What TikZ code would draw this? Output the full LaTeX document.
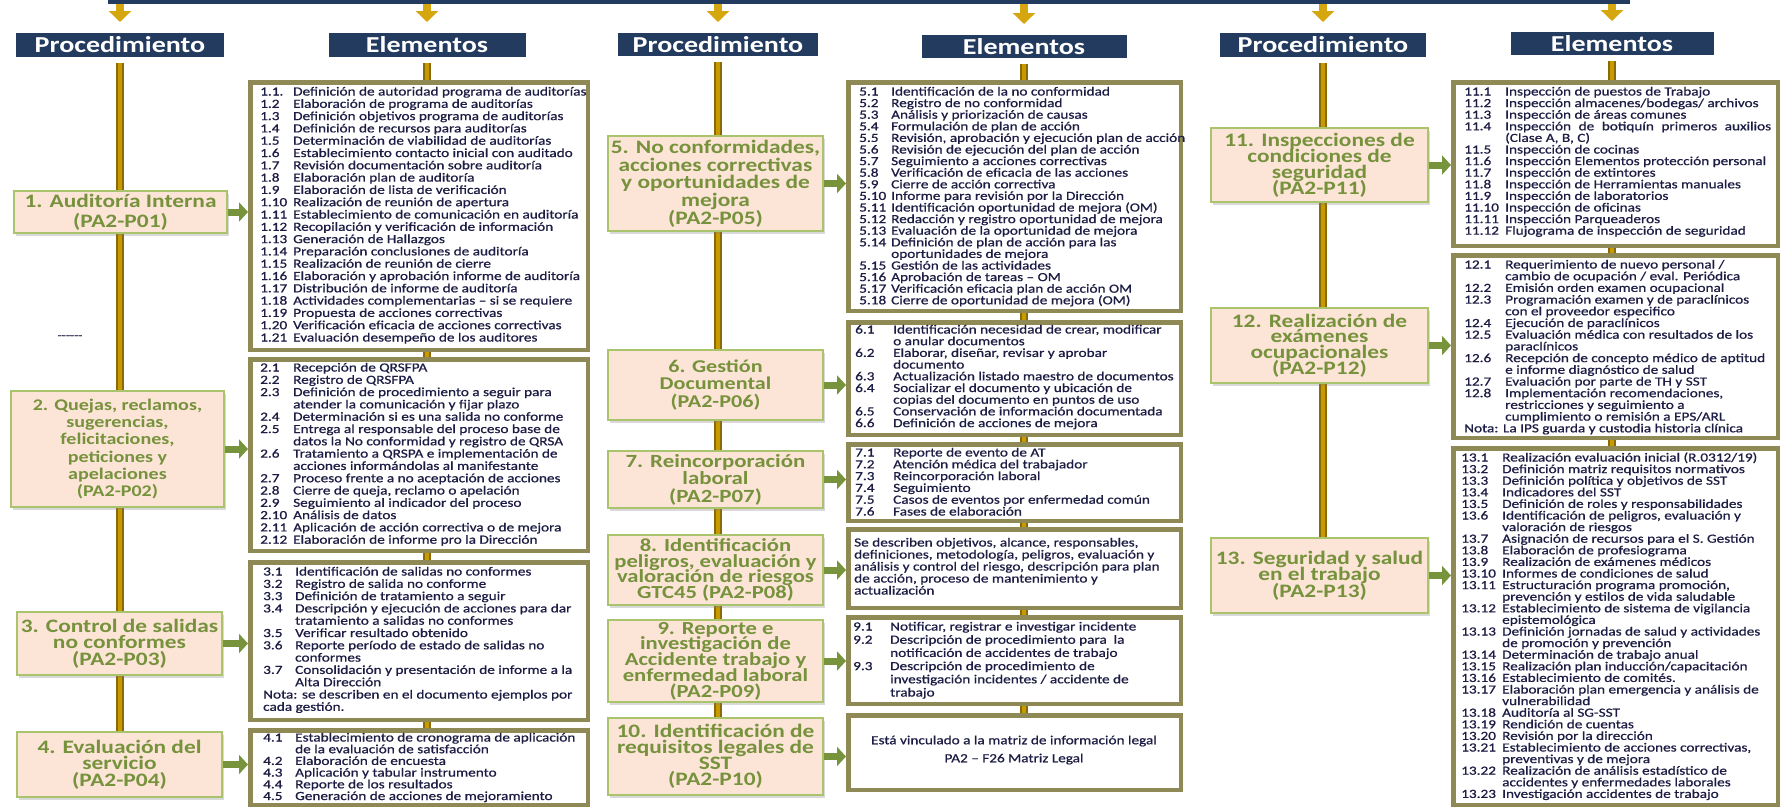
\documentclass[tikz,border=0pt]{standalone}
\usepackage{fontspec}
\newfontfamily\itemf{Carlito}[FakeStretch=1.23, FakeBold=0.7]
\newfontfamily\procf{Carlito}[FakeStretch=1.23]
\usetikzlibrary{arrows.meta,shadows}
\definecolor{navy}{HTML}{223B5E}
\definecolor{trunkd}{HTML}{8A6A08}
\definecolor{trunkl}{HTML}{C79A00}
\definecolor{goldarr}{HTML}{D6A60F}
\definecolor{peach}{HTML}{FCE4D6}
\definecolor{pborder}{HTML}{A9C46C}
\definecolor{ptext}{HTML}{76923C}
\definecolor{garrow}{HTML}{77933C}
\definecolor{eborder}{HTML}{8F8A55}
\definecolor{itext}{HTML}{1C1C44}
\pgfdeclarelayer{bg}
\pgfsetlayers{bg,main}
\newlength\numw
\newcommand\itm[2]{\makebox[\numw][l]{#1}#2}
\newcommand\cnt[1]{\hspace*{\numw}#1}
\newcommand\pfont[2]{\procf\bfseries\fontsize{#1}{#2}\selectfont\lineskiplimit=-100pt\relax}
\tikzset{
 hdr/.style={fill=navy, draw=white, line width=6pt, text=white, font=\procf\bfseries\fontsize{22.8}{24}\selectfont, inner sep=0pt, drop shadow={opacity=0.25, shadow xshift=1.5pt, shadow yshift=-1.5pt}},
 pbox/.style={fill=peach, draw=pborder, line width=1.5pt, inner sep=0pt, align=center, text=ptext, drop shadow={opacity=0.3, shadow xshift=2pt, shadow yshift=-2.5pt}},
 ebox/.style={draw=eborder, fill=white, line width=4.5pt, inner sep=0pt, drop shadow={opacity=0.2, shadow xshift=1.5pt, shadow yshift=-1.5pt}},
 itxt/.style={inner sep=0pt, anchor=base west, text=itext, font=\itemf},
 trunkout/.style={draw=trunkd, line width=8pt},
 trunkin/.style={draw=trunkl, line width=4.5pt},
 garr/.style={draw=garrow, line width=7pt, -{Triangle[length=9pt,width=19pt]}},
 goldarr/.style={draw=goldarr, line width=8pt, -{Triangle[length=11pt,width=22pt]}},
}
\newcommand\pbx[8]{\node[pbox, minimum width={#4-#2}, minimum height={#5-#3}, font={\pfont{#6}{#7}}] (#1) at ({(#2+#4)/2},{(#3+#5)/2}) {#8};}
\newcommand\ebx[5]{\node[ebox, minimum width={#4-#2-4.5}, minimum height={#5-#3-4.5}] (#1) at ({(#2+#4)/2},{(#3+#5)/2}) {};}
\newcommand\etx[6]{\node[itxt] (#1) at (#2,#3) {\parbox[t]{420pt}{\fontsize{12.4}{#4}\selectfont\lineskiplimit=-100pt\relax\setlength\numw{#5}#6}};}
\begin{document}
\begin{tikzpicture}[x=1pt,y=-1pt]
\useasboundingbox (0,0) rectangle (1782,809);
% top bar and headers
\node[fill=navy, minimum width=1522, minimum height=4, inner sep=0pt] (bar) at (869,2) {};
\node[hdr, minimum width=214, minimum height=30] (H1) at (120,45) {Procedimiento};
\node[hdr, minimum width=203, minimum height=30] (H2) at (427,45) {Elementos};
\node[hdr, minimum width=206, minimum height=29] (H3) at (718,44.5) {Procedimiento};
\node[hdr, minimum width=211, minimum height=29] (H4) at (1024,46.5) {Elementos};
\node[hdr, minimum width=212, minimum height=30] (H5) at (1323,45) {Procedimiento};
\node[hdr, minimum width=209, minimum height=29] (H6) at (1612,43.5) {Elementos};
\foreach \h in {H1,H2,H3,H4,H5,H6}{\draw[goldarr] (bar.south -| \h.north) -- ([yshift=5pt]\h.north);}
% procedure boxes
\pbx{P1}{14}{191}{227}{233}{19}{20}{1. Auditoría Interna\\(PA2-P01)}
\pbx{P2}{11}{391}{224}{507}{16.3}{17.3}{2. Quejas, reclamos,\\sugerencias,\\felicitaciones,\\peticiones y\\apelaciones\\(PA2-P02)}
\pbx{P3}{17}{612}{222}{675}{19}{16.7}{3. Control de salidas\\no conformes\\(PA2-P03)}
\pbx{P4}{17}{732}{222}{797}{19}{16.7}{4. Evaluación del\\servicio\\(PA2-P04)}
\pbx{P5}{608}{136}{823}{231}{19}{17.7}{5. No conformidades,\\acciones correctivas\\y oportunidades de\\mejora\\(PA2-P05)}
\pbx{P6}{608}{350}{823}{420}{18}{17.5}{6. Gestión\\Documental\\(PA2-P06)}
\pbx{P7}{608}{451}{823}{508}{18.6}{17.5}{7. Reincorporación\\laboral\\(PA2-P07)}
\pbx{P8}{608}{535}{823}{605}{18.4}{15.6}{8. Identificación\\peligros, evaluación y\\valoración de riesgos\\GTC45 (PA2-P08)}
\pbx{P9}{608}{620}{823}{702}{18.4}{15.8}{9. Reporte e\\investigación de\\Accidente trabajo y\\enfermedad laboral\\(PA2-P09)}
\pbx{P10}{608}{718}{823}{795}{19}{16}{10. Identificación de\\requisitos legales de\\SST\\(PA2-P10)}
\pbx{P11}{1211}{128}{1428}{202}{19}{16}{11. Inspecciones de\\condiciones de\\seguridad\\(PA2-P11)}
\pbx{P12}{1211}{308}{1428}{383}{19}{15.7}{12. Realización de\\exámenes\\ocupacionales\\(PA2-P12)}
\pbx{P13}{1211}{538}{1428}{613}{19}{16.7}{13. Seguridad y salud\\en el trabajo\\(PA2-P13)}
% element boxes
\ebx{E1}{248}{80}{590}{352}
\ebx{E2}{248}{357}{590}{553}
\ebx{E3}{248}{560}{590}{722}
\ebx{E4}{248}{728}{590}{807}
\ebx{E5}{846}{80}{1183}{313}
\ebx{E6}{846}{320}{1183}{437}
\ebx{E7}{846}{442}{1183}{523}
\ebx{E8}{846}{527}{1183}{610}
\ebx{E9}{846}{615}{1183}{706}
\ebx{E10}{846}{713}{1183}{792}
\ebx{E11}{1451}{80}{1780}{248}
\ebx{E12}{1451}{253}{1780}{440}
\ebx{E13}{1451}{446}{1780}{807}
% element texts
\etx{T1}{260}{95.5}{12.3}{33pt}{%
\itm{1.1.}{Definición de autoridad programa de auditorías}\\
\itm{1.2}{Elaboración de programa de auditorías}\\
\itm{1.3}{Definición objetivos programa de auditorías}\\
\itm{1.4}{Definición de recursos para auditorías}\\
\itm{1.5}{Determinación de viabilidad de auditorías}\\
\itm{1.6}{Establecimiento contacto inicial con auditado}\\
\itm{1.7}{Revisión documentación sobre auditoría}\\
\itm{1.8}{Elaboración plan de auditoría}\\
\itm{1.9}{Elaboración de lista de verificación}\\
\itm{1.10}{Realización de reunión de apertura}\\
\itm{1.11}{Establecimiento de comunicación en auditoría}\\
\itm{1.12}{Recopilación y verificación de información}\\
\itm{1.13}{Generación de Hallazgos}\\
\itm{1.14}{Preparación conclusiones de auditoría}\\
\itm{1.15}{Realización de reunión de cierre}\\
\itm{1.16}{Elaboración y aprobación informe de auditoría}\\
\itm{1.17}{Distribución de informe de auditoría}\\
\itm{1.18}{Actividades complementarias – si se requiere}\\
\itm{1.19}{Propuesta de acciones correctivas}\\
\itm{1.20}{Verificación eficacia de acciones correctivas}\\
\itm{1.21}{Evaluación desempeño de los auditores}}
\etx{T2}{260}{371.5}{12.3}{33pt}{%
\itm{2.1}{Recepción de QRSFPA}\\
\itm{2.2}{Registro de QRSFPA}\\
\itm{2.3}{Definición de procedimiento a seguir para}\\
\cnt{atender la comunicación y fijar plazo}\\
\itm{2.4}{Determinación si es una salida no conforme}\\
\itm{2.5}{Entrega al responsable del proceso base de}\\
\cnt{datos la No conformidad y registro de QRSA}\\
\itm{2.6}{Tratamiento a QRSPA e implementación de}\\
\cnt{acciones informándolas al manifestante}\\
\itm{2.7}{Proceso frente a no aceptación de acciones}\\
\itm{2.8}{Cierre de queja, reclamo o apelación}\\
\itm{2.9}{Seguimiento al indicador del proceso}\\
\itm{2.10}{Análisis de datos}\\
\itm{2.11}{Aplicación de acción correctiva o de mejora}\\
\itm{2.12}{Elaboración de informe pro la Dirección}}
\etx{T3}{263}{575.5}{12.3}{32pt}{%
\itm{3.1}{Identificación de salidas no conformes}\\
\itm{3.2}{Registro de salida no conforme}\\
\itm{3.3}{Definición de tratamiento a seguir}\\
\itm{3.4}{Descripción y ejecución de acciones para dar}\\
\cnt{tratamiento a salidas no conformes}\\
\itm{3.5}{Verificar resultado obtenido}\\
\itm{3.6}{Reporte período de estado de salidas no}\\
\cnt{conformes}\\
\itm{3.7}{Consolidación y presentación de informe a la}\\
\cnt{Alta Dirección}\\
Nota: se describen en el documento ejemplos por\\
cada gestión.}
\etx{T4}{263}{741.5}{11.7}{32pt}{%
\itm{4.1}{Establecimiento de cronograma de aplicación}\\
\cnt{de la evaluación de satisfacción}\\
\itm{4.2}{Elaboración de encuesta}\\
\itm{4.3}{Aplicación y tabular instrumento}\\
\itm{4.4}{Reporte de los resultados}\\
\itm{4.5}{Generación de acciones de mejoramiento}}
\etx{T5}{859}{95.5}{11.6}{32pt}{%
\itm{5.1}{Identificación de la no conformidad}\\
\itm{5.2}{Registro de no conformidad}\\
\itm{5.3}{Análisis y priorización de causas}\\
\itm{5.4}{Formulación de plan de acción}\\
\itm{5.5}{Revisión, aprobación y ejecución plan de acción}\\
\itm{5.6}{Revisión de ejecución del plan de acción}\\
\itm{5.7}{Seguimiento a acciones correctivas}\\
\itm{5.8}{Verificación de eficacia de las acciones}\\
\itm{5.9}{Cierre de acción correctiva}\\
\itm{5.10}{Informe para revisión por la Dirección}\\
\itm{5.11}{Identificación oportunidad de mejora (OM)}\\
\itm{5.12}{Redacción y registro oportunidad de mejora}\\
\itm{5.13}{Evaluación de la oportunidad de mejora}\\
\itm{5.14}{Definición de plan de acción para las}\\
\cnt{oportunidades de mejora}\\
\itm{5.15}{Gestión de las actividades}\\
\itm{5.16}{Aprobación de tareas – OM}\\
\itm{5.17}{Verificación eficacia plan de acción OM}\\
\itm{5.18}{Cierre de oportunidad de mejora (OM)}}
\etx{T6}{855}{333.5}{11.7}{38pt}{%
\itm{6.1}{Identificación necesidad de crear, modificar}\\
\cnt{o anular documentos}\\
\itm{6.2}{Elaborar, diseñar, revisar y aprobar}\\
\cnt{documento}\\
\itm{6.3}{Actualización listado maestro de documentos}\\
\itm{6.4}{Socializar el documento y ubicación de}\\
\cnt{copias del documento en puntos de uso}\\
\itm{6.5}{Conservación de información documentada}\\
\itm{6.6}{Definición de acciones de mejora}}
\etx{T7}{855}{456.5}{11.8}{38pt}{%
\itm{7.1}{Reporte de evento de AT}\\
\itm{7.2}{Atención médica del trabajador}\\
\itm{7.3}{Reincorporación laboral}\\
\itm{7.4}{Seguimiento}\\
\itm{7.5}{Casos de eventos por enfermedad común}\\
\itm{7.6}{Fases de elaboración}}
\etx{T8}{854}{546.5}{12}{0pt}{%
Se describen objetivos, alcance, responsables,\\
definiciones, metodología, peligros, evaluación y\\
análisis y control del riesgo, descripción para plan\\
de acción, proceso de mantenimiento y\\
actualización}
\etx{T9}{853}{630.5}{13.2}{37pt}{%
\itm{9.1}{Notificar, registrar e investigar incidente}\\
\itm{9.2}{Descripción de procedimiento para\ \ la}\\
\cnt{notificación de accidentes de trabajo}\\
\itm{9.3}{Descripción de procedimiento de}\\
\cnt{investigación incidentes / accidente de}\\
\cnt{trabajo}}
\node[inner sep=0pt, align=center, text=itext, font={\itemf\fontsize{12.4}{18}\selectfont\lineskiplimit=-100pt\relax}] (T10) at (1014,750) {Está vinculado a la matriz de información legal\\PA2 – F26 Matriz Legal};
\etx{T11}{1464}{95.5}{11.6}{41pt}{%
\itm{11.1}{Inspección de puestos de Trabajo}\\
\itm{11.2}{Inspección almacenes/bodegas/ archivos}\\
\itm{11.3}{Inspección de áreas comunes}\\
\itm{11.4}{\makebox[266pt][s]{Inspección de botiquín primeros auxilios}}\\
\cnt{(Clase A, B, C)}\\
\itm{11.5}{Inspección de cocinas}\\
\itm{11.6}{Inspección Elementos protección personal}\\
\itm{11.7}{Inspección de extintores}\\
\itm{11.8}{Inspección de Herramientas manuales}\\
\itm{11.9}{Inspección de laboratorios}\\
\itm{11.10}{Inspección de oficinas}\\
\itm{11.11}{Inspección Parqueaderos}\\
\itm{11.12}{Flujograma de inspección de seguridad}}
\etx{T12}{1464}{268.5}{11.7}{41pt}{%
\itm{12.1}{Requerimiento de nuevo personal /}\\
\cnt{cambio de ocupación / eval. Periódica}\\
\itm{12.2}{Emisión orden examen ocupacional}\\
\itm{12.3}{Programación examen y de paraclínicos}\\
\cnt{con el proveedor especifico}\\
\itm{12.4}{Ejecución de paraclínicos}\\
\itm{12.5}{Evaluación médica con resultados de los}\\
\cnt{paraclínicos}\\
\itm{12.6}{Recepción de concepto médico de aptitud}\\
\cnt{e informe diagnóstico de salud}\\
\itm{12.7}{Evaluación por parte de TH y SST}\\
\itm{12.8}{Implementación recomendaciones,}\\
\cnt{restricciones y seguimiento a}\\
\cnt{cumplimiento o remisión a EPS/ARL}\\
Nota: La IPS guarda y custodia historia clínica}
\etx{T13}{1461}{461.5}{11.6}{41pt}{%
\itm{13.1}{Realización evaluación inicial (R.0312/19)}\\
\itm{13.2}{Definición matriz requisitos normativos}\\
\itm{13.3}{Definición política y objetivos de SST}\\
\itm{13.4}{Indicadores del SST}\\
\itm{13.5}{Definición de roles y responsabilidades}\\
\itm{13.6}{Identificación de peligros, evaluación y}\\
\cnt{valoración de riesgos}\\
\itm{13.7}{Asignación de recursos para el S. Gestión}\\
\itm{13.8}{Elaboración de profesiograma}\\
\itm{13.9}{Realización de exámenes médicos}\\
\itm{13.10}{Informes de condiciones de salud}\\
\itm{13.11}{Estructuración programa promoción,}\\
\cnt{prevención y estilos de vida saludable}\\
\itm{13.12}{Establecimiento de sistema de vigilancia}\\
\cnt{epistemológica}\\
\itm{13.13}{Definición jornadas de salud y actividades}\\
\cnt{de promoción y prevención}\\
\itm{13.14}{Determinación de trabajo anual}\\
\itm{13.15}{Realización plan inducción/capacitación}\\
\itm{13.16}{Establecimiento de comités.}\\
\itm{13.17}{Elaboración plan emergencia y análisis de}\\
\cnt{vulnerabilidad}\\
\itm{13.18}{Auditoría al SG-SST}\\
\itm{13.19}{Rendición de cuentas}\\
\itm{13.20}{Revisión por la dirección}\\
\itm{13.21}{Establecimiento de acciones correctivas,}\\
\cnt{preventivas y de mejora}\\
\itm{13.22}{Realización de análisis estadístico de}\\
\cnt{accidentes y enfermedades laborales}\\
\itm{13.23}{Investigación accidentes de trabajo}}
\node[inner sep=0pt, text=itext, font={\itemf\fontsize{11}{11}\selectfont}] (dash) at (70,337) {------};
% green arrows
\foreach \p/\e in {P1/E1,P2/E2,P3/E3,P4/E4,P5/E5,P6/E6,P7/E7,P8/E8,P9/E9,P10/E10,P11/E11,P12/E12,P13/E13}{\draw[garr] (\p.east) -- (\p.east -| \e.west);}
% trunks
\begin{pgfonlayer}{bg}
\foreach \a/\b in {H1/P4,H2/E4,H3/P10,H4/E10,H5/P13,H6/E13}{
\draw[trunkout] (\a.south) -- (\a.south |- \b.north);
\draw[trunkin] (\a.south) -- (\a.south |- \b.north);}
\end{pgfonlayer}
\end{tikzpicture}
\end{document}
